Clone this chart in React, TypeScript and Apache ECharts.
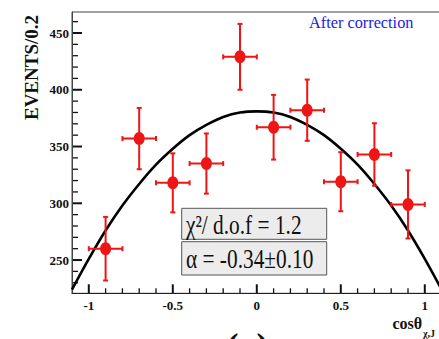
import React, { useEffect, useRef } from "react";
import * as echarts from "echarts";

// Measured data: bin centres of cos(theta), events per bin and statistical errors
const binCenters = [-0.9, -0.7, -0.5, -0.3, -0.1, 0.1, 0.3, 0.5, 0.7, 0.9];
const events = [260, 357, 318, 335, 429, 367, 382, 319, 343, 299];
const eventErrors = [28, 27, 26, 26.5, 29, 28.5, 27, 26, 27.5, 30];
const binHalfWidth = 0.1;

// Fit curve
const fitX = [-1.1, -1.0, -0.9, -0.8, -0.7, -0.6, -0.5, -0.4, -0.3, -0.2, -0.1, 0, 0.1, 0.2, 0.3, 0.4, 0.5, 0.6, 0.7, 0.8, 0.9, 1.0, 1.1];
const fitY = [224, 251, 276, 298, 317, 334, 348, 360, 369, 376, 380, 381, 380, 376, 369, 360, 348, 334, 317, 298, 276, 251, 224];

// Axis ranges and tick values
const X_MIN = -1.1;
const X_MAX = 1.1;
const Y_MIN = 220.7;
const Y_MAX = 468.5;
const yMajorTicks = [250, 300, 350, 400, 450];
const yMinorTicks = [230, 240, 260, 270, 280, 290, 310, 320, 330, 340, 360, 370, 380, 390, 410, 420, 430, 440, 460];
const xMajorTicks = [-1, -0.5, 0, 0.5, 1];
const xMinorTicks = [-0.9, -0.8, -0.7, -0.6, -0.4, -0.3, -0.2, -0.1, 0.1, 0.2, 0.3, 0.4, 0.6, 0.7, 0.8, 0.9];

const statLine1 = "χ²/ d.o.f = 1.2";
const statLine2 = "α = -0.34±0.10";
const annotation = "After correction";
const yTitle = "EVENTS/0.2";
const xTitleMain = "cosθ";
const xTitleSub = "χ,J";
const panelLabel = "(a)";

const SERIF = "Liberation Serif";
const RED = "#ee1515";
const TICK = "#111";

export default function App() {
  const ref = useRef<HTMLDivElement>(null);

  useEffect(() => {
    if (!ref.current) return;
    const chart = echarts.init(ref.current, undefined, { renderer: "svg" });

    const txt = (x: number, y: number, text: string, font: string, fill: string, align: string, valign: string, extra: any = {}) => ({
      type: "text",
      x,
      y,
      ...extra,
      style: {
        text,
        font,
        fill,
        textAlign: align,
        textVerticalAlign: valign,
        align,
        verticalAlign: valign,
      },
    });

    const staticGraphic: any[] = [
      txt(31.5, 67.5, yTitle, `bold 19px "${SERIF}"`, "#111", "center", "middle", { rotation: Math.PI / 2 }),
      txt(309, 22.6, annotation, `16.3px "${SERIF}"`, "#2222dd", "left", "middle"),
      {
        type: "rect",
        shape: { x: 181.7, y: 208.3, width: 145, height: 31 },
        style: { fill: "#ececec", stroke: "#555", lineWidth: 1 },
        z: 10,
      },
      {
        type: "rect",
        shape: { x: 181.7, y: 241.7, width: 145, height: 33.3 },
        style: { fill: "#ececec", stroke: "#555", lineWidth: 1 },
        z: 10,
      },
      txt(186, 224.2, statLine1, `27px "${SERIF}"`, "#111", "left", "middle", { scaleX: 0.79, z: 11 }),
      txt(186, 258.6, statLine2, `27px "${SERIF}"`, "#111", "left", "middle", { scaleX: 0.79, z: 11 }),
      txt(392.5, 323, xTitleMain, `bold 16px "${SERIF}"`, "#111", "left", "middle"),
      txt(423, 333, xTitleSub, `bold 10px "${SERIF}"`, "#111", "left", "middle"),
      txt(247.5, 328, panelLabel, `bold 36px "${SERIF}"`, "#111", "center", "top"),
    ];

    const option: any = {
      animation: false,
      backgroundColor: "#fff",
      grid: {
        left: 72,
        top: 12,
        width: 369.6,
        height: 281.3,
        show: true,
        borderColor: "#444",
        borderWidth: 1,
        backgroundColor: "transparent",
      },
      xAxis: {
        type: "value",
        min: X_MIN,
        max: X_MAX,
        position: "bottom",
        axisLine: { show: true, onZero: false, lineStyle: { color: "#222", width: 1 } },
        axisTick: { show: false },
        axisLabel: { show: false },
        splitLine: { show: false },
      },
      yAxis: {
        type: "value",
        min: Y_MIN,
        max: Y_MAX,
        position: "left",
        axisLine: { show: true, onZero: false, lineStyle: { color: "#444", width: 1 } },
        axisTick: { show: false },
        axisLabel: { show: false },
        splitLine: { show: false },
      },
      series: [
        {
          type: "line",
          data: fitX.map((x, i) => [x, fitY[i]]),
          showSymbol: false,
          smooth: 0.3,
          clip: true,
          lineStyle: { color: "#000", width: 2.6 },
          z: 2,
        },
        {
          type: "custom",
          data: binCenters.map((x, i) => [x, events[i], eventErrors[i]]),
          z: 3,
          renderItem: (params: any, api: any) => {
            const x = api.value(0);
            const y = api.value(1);
            const e = api.value(2);
            const c = api.coord([x, y]);
            const l = api.coord([x - binHalfWidth, y]);
            const r = api.coord([x + binHalfWidth, y]);
            const t = api.coord([x, y + e]);
            const b = api.coord([x, y - e]);
            const st = { stroke: RED, lineWidth: 2 };
            const cap = 2.5;
            return {
              type: "group",
              children: [
                { type: "line", shape: { x1: l[0], y1: l[1], x2: r[0], y2: r[1] }, style: st },
                { type: "line", shape: { x1: t[0], y1: t[1], x2: b[0], y2: b[1] }, style: st },
                { type: "line", shape: { x1: l[0], y1: l[1] - cap, x2: l[0], y2: l[1] + cap }, style: st },
                { type: "line", shape: { x1: r[0], y1: r[1] - cap, x2: r[0], y2: r[1] + cap }, style: st },
                { type: "line", shape: { x1: t[0] - cap, y1: t[1], x2: t[0] + cap, y2: t[1] }, style: st },
                { type: "line", shape: { x1: b[0] - cap, y1: b[1], x2: b[0] + cap, y2: b[1] }, style: st },
                { type: "ellipse", shape: { cx: c[0], cy: c[1], rx: 5.5, ry: 6.5 }, style: { fill: RED } },
              ],
            };
          },
        },
      ],
      graphic: staticGraphic,
    };

    chart.setOption(option);

    // Ticks and tick labels positioned through the chart's own scales
    const px = (x: number, y: number) => chart.convertToPixel({ gridIndex: 0 }, [x, y]) as number[];
    const tickGraphic: any[] = [];
    const labelFont = `bold 13px "${SERIF}"`;
    yMajorTicks.forEach((v) => {
      const p = px(X_MIN, v);
      tickGraphic.push({ type: "line", shape: { x1: p[0], y1: p[1], x2: p[0] + 10, y2: p[1] }, style: { stroke: TICK, lineWidth: 2 } });
      tickGraphic.push(txt(p[0] - 3, p[1], String(v), labelFont, "#111", "right", "middle"));
    });
    yMinorTicks.forEach((v) => {
      const p = px(X_MIN, v);
      tickGraphic.push({ type: "line", shape: { x1: p[0], y1: p[1], x2: p[0] + 6, y2: p[1] }, style: { stroke: TICK, lineWidth: 1.3 } });
    });
    xMajorTicks.forEach((v) => {
      const p = px(v, Y_MIN);
      tickGraphic.push({ type: "line", shape: { x1: p[0], y1: p[1], x2: p[0], y2: p[1] - 9 }, style: { stroke: TICK, lineWidth: 2 } });
      tickGraphic.push(txt(p[0], p[1] + 6, String(v), labelFont, "#111", "center", "top"));
    });
    xMinorTicks.forEach((v) => {
      const p = px(v, Y_MIN);
      tickGraphic.push({ type: "line", shape: { x1: p[0], y1: p[1], x2: p[0], y2: p[1] - 5 }, style: { stroke: TICK, lineWidth: 1.3 } });
    });

    chart.setOption({ graphic: [...staticGraphic, ...tickGraphic] });

    return () => {
      chart.dispose();
    };
  }, []);

  return (
    <div
      style={{
        position: "absolute",
        left: 0,
        top: 0,
        width: 439,
        height: 339,
        overflow: "hidden",
        background: "#fff",
      }}
    >
      <div ref={ref} style={{ width: 445, height: 339 }} />
    </div>
  );
}
